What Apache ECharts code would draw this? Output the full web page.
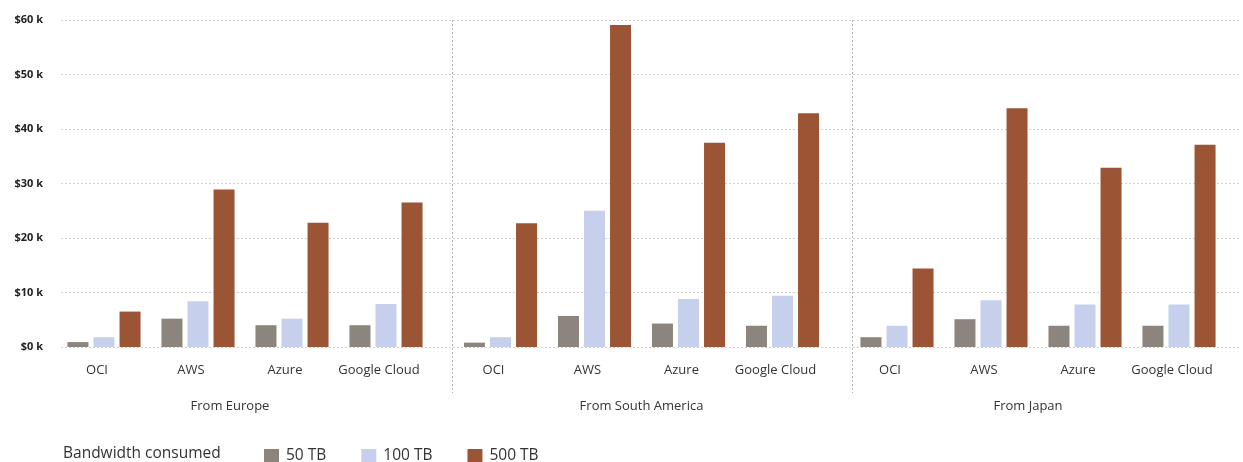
<!DOCTYPE html>
<html><head><meta charset="utf-8">
<script src="https://cdn.jsdelivr.net/npm/echarts@6/dist/echarts.min.js"></script>
<style>html,body{margin:0;padding:0;background:#fff}#c{width:1243px;height:462px}</style>
</head><body><div id="c"></div>
<script>
// ---- data ----
const groups = ['From Europe', 'From South America', 'From Japan'];
const providers = ['OCI', 'AWS', 'Azure', 'Google Cloud'];
const seriesNames = ['50 TB', '100 TB', '500 TB'];
// values in US$, per group: OCI, AWS, Azure, Google Cloud
const tb50Europe = [900, 5200, 4000, 4000];
const tb100Europe = [1800, 8400, 5200, 7900];
const tb500Europe = [6500, 28900, 22800, 26500];
const tb50SouthAmerica = [800, 5700, 4300, 3900];
const tb100SouthAmerica = [1800, 25000, 8800, 9400];
const tb500SouthAmerica = [22700, 59100, 37500, 42900];
const tb50Japan = [1800, 5100, 3900, 3900];
const tb100Japan = [3900, 8600, 7800, 7800];
const tb500Japan = [14400, 43800, 32900, 37100];
const yMin = 0, yMax = 60000, yStep = 10000;
const legendTitle = 'Bandwidth consumed';

// ---- styles ----
const colors = ['#8b857d', '#c6d0ec', '#9b5535'];
const FONT = 'Open Sans';
const gridTop = 20, gridBottom = 115;
const bandLefts = [57, 453.5, 850];
const bandW = 376;
const sepLeft = 52, sepPitch = 400, chartW = 1243;

const byGroup = [
  [tb50Europe, tb100Europe, tb500Europe],
  [tb50SouthAmerica, tb100SouthAmerica, tb500SouthAmerica],
  [tb50Japan, tb100Japan, tb500Japan]
];

const grid = [
  { left: 61, right: 3, top: gridTop, bottom: gridBottom },   // y gridlines
  { left: sepLeft, right: 0, top: gridTop, bottom: 69 }        // group separators
];
const xAxis = [
  { gridIndex: 0, type: 'category', data: [''], show: false },
  { gridIndex: 1, type: 'value', min: 0, max: (chartW - sepLeft) / sepPitch, interval: 1,
    axisLine: { show: false }, axisTick: { show: false }, axisLabel: { show: false },
    splitLine: { show: true, showMinLine: false, showMaxLine: false,
      lineStyle: { color: '#b5b5b5', type: [2, 2], width: 1 } } }
];
const yAxis = [
  { gridIndex: 0, type: 'value', min: yMin, max: yMax, interval: yStep,
    axisLine: { show: false }, axisTick: { show: false },
    axisLabel: { margin: 18, fontFamily: FONT, fontSize: 11, fontWeight: 'bold', color: '#222',
      formatter: v => '$' + (v / 1000) + ' k' },
    splitLine: { lineStyle: { color: '#d2d2d2', type: [2, 2], width: 1 } } },
  { gridIndex: 1, type: 'value', min: yMin, max: yMax, show: false }
];
const series = [];
groups.forEach((g, gi) => {
  grid.push({ left: bandLefts[gi], width: bandW, top: gridTop, bottom: gridBottom });
  const idx = grid.length - 1;
  xAxis.push({ gridIndex: idx, type: 'category', data: providers,
    axisLine: { show: false }, axisTick: { show: false },
    axisLabel: { interval: 0, margin: 17, fontFamily: FONT, fontSize: 13, color: '#333', padding: [0, 14, 0, 0] },
    name: g, nameLocation: 'middle', nameGap: 53,
    nameTextStyle: { fontFamily: FONT, fontSize: 13, color: '#333', padding: gi === 0 ? [0, 30, 0, 0] : (gi === 2 ? [0, 20, 0, 0] : 0) } });
  yAxis.push({ gridIndex: idx, type: 'value', min: yMin, max: yMax, show: false });
  byGroup[gi].forEach((vals, si) => {
    series.push({ type: 'bar', name: seriesNames[si], xAxisIndex: idx, yAxisIndex: idx,
      data: vals, barWidth: 21, barGap: '24%', itemStyle: { color: colors[si] },
      emphasis: { disabled: true } });
  });
});

const chart = echarts.init(document.getElementById('c'), null, { renderer: 'canvas' });
chart.setOption({
  animation: false,
  color: colors,
  textStyle: { fontFamily: FONT },
  title: { text: legendTitle, left: 58, top: 440,
    textStyle: { fontFamily: FONT, fontSize: 15.5, lineHeight: 18, fontWeight: 'normal', color: '#333' } },
  legend: { data: seriesNames, left: 259, top: 442, itemWidth: 15, itemHeight: 14, itemGap: 35,
    icon: 'rect', textStyle: { fontFamily: FONT, fontSize: 15.5, lineHeight: 18, color: '#333', padding: [0, 0, 0, 2] } },
  grid, xAxis, yAxis, series
});
</script></body></html>
